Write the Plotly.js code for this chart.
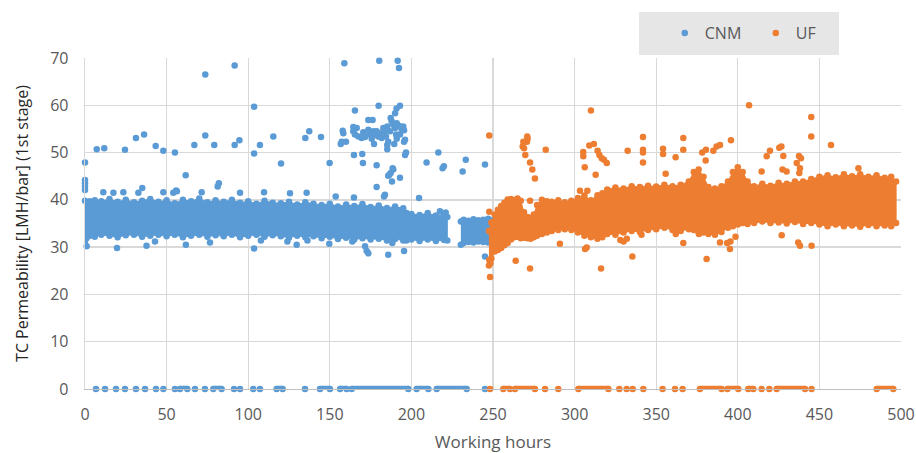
<!DOCTYPE html>
<html>
<head>
<meta charset="utf-8">
<script src="https://cdn.plot.ly/plotly-3.0.1.min.js"></script>
<style>html,body{margin:0;padding:0;background:#fff;}#chart{width:916px;height:453px;}</style>
</head>
<body>
<div id="chart"></div>
<script>
// ---------- CNM (blue) ----------
// dense band envelope (working hours, lower / upper permeability)
var cnmBandX  = [0,1,3,6,10,15,20,25,30,35,40,45,50,55,60,65,70,75,80,85,90,95,100,105,110,115,120,125,130,135,140,145,150,155,160,165,170,175,180,185,190,195,197,200,205,210,215,220,222];
var cnmBandHi = [38.2,39.0,39.7,39.9,39.7,40.2,39.6,40.0,39.5,39.8,40.2,39.6,39.9,39.3,40.0,39.7,40.3,39.5,39.9,39.6,40.0,39.4,39.7,39.2,39.8,39.4,39.3,39.6,39.0,39.5,39.2,38.9,39.2,38.6,39.0,38.7,39.1,38.5,38.8,38.3,38.6,38.2,37.2,37.0,36.8,37.2,36.7,36.9,36.4];
var cnmBandLo = [30.8,31.9,32.4,32.2,32.6,32.4,32.1,32.5,32.6,32.2,32.4,32.6,32.3,32.6,32.1,32.4,32.6,32.2,32.5,32.3,32.6,32.1,32.4,32.6,32.2,32.5,32.3,32.0,32.4,32.1,32.3,31.9,32.2,31.7,32.0,31.6,31.9,31.6,31.8,31.4,31.7,31.4,31.4,31.6,31.3,31.6,31.3,31.5,31.4];
var cnmBand2X  = [230.3,232,235,238,241,244,247,248.7];
var cnmBand2Hi = [35.4,35.8,35.6,35.9,35.7,35.8,36.0,35.7];
var cnmBand2Lo = [30.5,30.9,31.1,31.0,31.2,31.1,31.0,31.2];
// scattered readings
var cnmX = [0,0,0,0,0,0,1,7.2,11.8,24.5,31.2,36.2,43.3,48,55.1,61.7,67,73.7,73.7,79.2,91.7,91.7,94.6,103.6,103.6,107.2,115.4,120.1,135,137.4,144.6,
  35.1,82,81.3,55.8,56.3,11.2,17.4,23.5,32.7,48,54.1,71.5,95,109.7,125.6,135.8,153.6,164.8,204.7,
  158.9,180.3,191.6,192.4,149.9,165.4,179.9,193,190.9,190,187.3,173.6,176.2,
  157.9,158.3,157.3,156.7,159.9,164.4,164.4,166.5,165.4,167.5,169.5,170.5,171.6,173.6,174.2,175.7,176.7,177.7,178.7,179.7,180.8,181.8,182.8,183.8,184.4,185.2,185.8,186.9,187.9,188.9,190,191,192,193,194.1,195,195.5,195.5,196.1,193,190.6,191,189.5,185.2,177.1,
  164.8,169.9,170.3,178.7,185.2,196.7,196.1,186.5,187.3,188.5,188.9,185.8,193,188.1,178.7,183.8,183.2,
  209.3,216.5,219.1,219.9,231.4,233.3,245.1,217.5,221,
  19.6,37.7,42.9,61.8,76.6,103.6,107.8,124,129.7,136.3,149.7,163.8,171.6,172.6,173.6,185.8,188.3,195.5,245.1];
var cnmY = [47.9,44.2,43.5,42.8,42.1,39.8,30.2,50.7,50.9,50.6,53.1,53.8,51.4,50.4,50,45.2,51.6,66.5,53.6,51.6,68.4,51.6,52.6,59.7,49.8,51.6,53.4,47.7,53.1,54.5,53.3,
  42.5,43.5,42.8,42,41.8,41.6,41.5,41.6,41.5,41.6,41.5,41.6,41.5,41.6,41.4,41.5,40.7,40.5,40.4,
  68.9,69.4,69.4,67.9,47.8,58.9,59.9,59.9,59.3,58.3,57.3,56.9,56.9,
  54.6,54.1,52.3,51.8,52.3,55.4,54.5,55.2,53.8,53.4,53.1,54.3,53.3,54.8,53.8,52.9,54.5,53.8,54.5,53.4,54.1,53.1,55.2,54.5,53.4,55.5,52.3,54.5,56.6,55.9,55.2,56.2,55.7,55.5,54.8,55.5,54.7,52.3,52.7,53.8,53.8,52.9,51.8,51.6,51.8,
  49.5,49.7,47.8,47.3,50.7,50,49.5,45.3,45.7,46.7,46.4,45.1,44.7,43.9,42.7,41.1,40.7,
  47.9,50,46.7,47.1,46,48.5,47.5,37.6,37.3,
  29.8,30.3,31.2,30.5,31,29.7,31.4,31.2,30.5,31.4,30.7,31.2,30.2,29.2,28.7,28.4,30.9,29.2,28];
// readings at zero
var cnmZeroX = [6.7,12.3,19,24.5,31.2,36.8,43.5,48,55.1,67.4,73.5,91.3,95,103.1,107.2,134.8,245.1];
var cnmZeroRunStart = [58.2,78.6,117.4,144,156.3,163.4,203.2,215.5];
var cnmZeroRunEnd   = [62.7,83.7,121.1,150.1,160.3,198.1,210.4,233.9];

// ---------- UF (orange) ----------
var ufBandX  = [247.5,249,251,253,255,257,259,261,263,265,267,269,271,273,275,277,280,283,286,290,294,298,302,306,310,314,317,320,325,330,335,340,345,350,355,360,365,370,373,376,379,382,386,390,394,397,400,403,406,410,415,420,425,430,435,440,445,450,455,460,465,470,475,480,485,490,494,497];
var ufBandHi = [33.4,35.2,36.9,37.9,38.7,39.4,40.1,40.2,39.9,40.3,39.8,37.4,36.4,36.2,36.9,38.9,40.0,39.7,39.6,39.9,39.5,39.8,40.4,40.9,39.9,41.0,41.4,42.2,42.6,42.4,42.9,42.7,43.0,42.8,43.2,42.9,43.2,43.9,45.9,46.4,44.9,42.7,42.4,42.9,43.9,45.9,46.9,45.9,43.9,42.9,43.4,43.0,43.6,43.4,43.9,43.9,44.4,44.9,45.2,44.8,45.4,45.0,45.4,44.9,45.2,44.7,44.9,43.9];
var ufBandLo = [26.1,27.6,29.1,29.4,29.8,30.4,30.9,31.6,32.1,32.2,31.9,32.0,31.9,31.8,32.1,32.4,32.8,33.1,33.4,33.6,33.8,33.6,33.1,32.4,32.1,31.8,32.1,32.8,32.6,33.1,33.4,33.2,33.6,33.8,34.1,33.6,33.4,33.8,33.6,33.1,33.1,32.8,32.6,33.2,34.1,34.4,34.8,35.1,34.9,35.1,35.4,35.1,35.2,35.0,35.3,34.9,35.1,34.8,34.4,34.8,34.4,34.6,34.3,34.7,34.4,34.6,34.4,35.1];
var ufX = [247.7,247.7,271,271.2,268.6,270.8,268.2,269,269.8,272.7,274.1,275.7,282.3,310,309,311.8,305.3,305.3,306.2,312.9,314.1,315.2,316.6,318,319.7,303.3,307.8,320.6,272.7,
  332.5,341.9,341.9,341.9,341.9,354.2,354.2,355.8,361.9,366.6,366.6,378.2,380.3,380.5,385,387,389.1,395.8,406.9,414.6,417.7,419.7,425.4,426.7,427.9,437.5,438.7,436.1,438.1,437.7,427.4,429.9,445,445,457.1,473.9,
  248.2,248.4,247.7,263.9,272.7,316.2,306.4,307.4,291,335.4,380.9,395.2,366.6,389.1,445.2,438.1,437,426.9,376.2,362,341,328,330,332,395.5,398.6,393.5];
var ufY = [53.6,37.5,53.4,52.9,52.3,52.3,51.3,50.9,49.5,47.9,46.4,44.5,50.6,58.9,51.5,51.8,50.1,49.2,46.9,45.3,50.4,49.5,48.8,48.5,47.8,41.9,41.9,41.9,39.8,
  50.4,53.3,50.6,50,47.9,50.8,49.7,45.5,49,53.1,50.6,50,48.3,50.6,50.4,51.3,51.6,52.6,60,46,49.2,50.4,51,51.3,49.3,49.3,48.8,47.8,46.7,45.7,46.4,46,57.5,53.4,51.6,46.7,
  23.7,26.6,27.3,27.1,25.5,25.5,29.6,29.9,30.7,28,27.5,29.6,30.9,31,30.3,30.3,31,32.5,32.8,32.8,32.6,31.5,31.2,31.8,31.2,32.2,30.9];
var ufZeroX = [248.2,281.9,290,327.4,331.9,335.6,342.1,353.9,361.5,366.2,414.6,419.3,445.2];
var ufZeroRunStart = [256.3,263.5,302.3,376.8,393.6,406.4,423.8,485.1];
var ufZeroRunEnd   = [260.4,275.7,320.7,390.1,400.3,409.5,441.2,495.3];

var seriesNames = ['CNM','UF'];
var BLUE = '#5b9bd5', ORANGE = '#ed7d31';
var MS = 6.5;

function bandFill(xs, lo, hi, color) {
  var x = xs.concat(xs.slice().reverse());
  var y = hi.concat(lo.slice().reverse());
  return {x: x, y: y, type: 'scatter', mode: 'lines', fill: 'toself', fillcolor: color,
          line: {color: color, width: 1}, showlegend: false, hoverinfo: 'skip'};
}
function bandEdge(xs, lo, hi, color) {
  return {x: xs.concat(xs), y: hi.concat(lo), type: 'scatter', mode: 'markers',
          marker: {color: color, size: MS}, showlegend: false, hoverinfo: 'skip'};
}
function runs(s, e, color) {
  var x = [], y = [];
  for (var i = 0; i < s.length; i++) { x.push(s[i], e[i], null); y.push(0, 0, null); }
  return {x: x, y: y, type: 'scatter', mode: 'lines', line: {color: color, width: MS},
          showlegend: false, cliponaxis: false, hoverinfo: 'skip'};
}
function zeros(xs, color) {
  return {x: xs, y: xs.map(function(){return 0;}), type: 'scatter', mode: 'markers',
          marker: {color: color, size: MS}, showlegend: false, cliponaxis: false};
}
function runEnds(s, e, color) {
  return zeros(s.concat(e), color);
}

var traces = [
  bandFill(cnmBandX, cnmBandLo, cnmBandHi, BLUE),
  bandEdge(cnmBandX, cnmBandLo, cnmBandHi, BLUE),
  bandFill(cnmBand2X, cnmBand2Lo, cnmBand2Hi, BLUE),
  bandEdge(cnmBand2X, cnmBand2Lo, cnmBand2Hi, BLUE),
  runs(cnmZeroRunStart, cnmZeroRunEnd, BLUE),
  runEnds(cnmZeroRunStart, cnmZeroRunEnd, BLUE),
  zeros(cnmZeroX, BLUE),
  {x: cnmX, y: cnmY, type: 'scatter', mode: 'markers', name: seriesNames[0],
   marker: {color: BLUE, size: MS}, cliponaxis: false},
  bandFill(ufBandX, ufBandLo, ufBandHi, ORANGE),
  bandEdge(ufBandX, ufBandLo, ufBandHi, ORANGE),
  runs(ufZeroRunStart, ufZeroRunEnd, ORANGE),
  runEnds(ufZeroRunStart, ufZeroRunEnd, ORANGE),
  zeros(ufZeroX, ORANGE),
  {x: ufX, y: ufY, type: 'scatter', mode: 'markers', name: seriesNames[1],
   marker: {color: ORANGE, size: MS}, cliponaxis: false}
];

var FONT = 'Open Sans, Noto Sans, sans-serif';
var layout = {
  width: 916, height: 453,
  margin: {l: 85, r: 15, t: 58, b: 64, pad: 0},
  paper_bgcolor: '#ffffff', plot_bgcolor: '#ffffff',
  font: {family: FONT, size: 16, color: '#595959'},
  showlegend: true,
  legend: {orientation: 'h', x: 0.7105, xanchor: 'left', y: 1.0755, yanchor: 'middle',
           bgcolor: 'rgba(0,0,0,0)', font: {family: FONT, size: 16, color: '#595959'},
           entrywidth: 46, traceorder: 'normal'},
  shapes: [{type: 'rect', xref: 'paper', yref: 'paper', x0: 0.679, x1: 0.924, y0: 1.009, y1: 1.139,
            fillcolor: '#e6e6e6', line: {width: 0}, layer: 'below'}],
  xaxis: {range: [0, 500], dtick: 50, tick0: 0, showgrid: true, gridcolor: '#d9d9d9', gridwidth: 1.3,
          zeroline: false, showline: true, linecolor: '#bfbfbf', linewidth: 1.3,
          ticks: '', ticklabelstandoff: 10, tickfont: {size: 16, color: '#595959'},
          title: {text: 'Working hours', font: {size: 17, color: '#595959'}, standoff: 12}},
  yaxis: {range: [0, 70], dtick: 10, tick0: 0, showgrid: true, gridcolor: '#d9d9d9', gridwidth: 1.3,
          zeroline: false, showline: true, linecolor: '#d9d9d9', linewidth: 1.3,
          ticks: '', ticklabelstandoff: 12, tickfont: {size: 16, color: '#595959'},
          title: {text: 'TC Permeability [LMH/bar] (1st stage)', font: {size: 16, color: '#262626'}, standoff: 17}}
};

Plotly.newPlot('chart', traces, layout, {displayModeBar: false, staticPlot: true});
</script>
</body>
</html>
